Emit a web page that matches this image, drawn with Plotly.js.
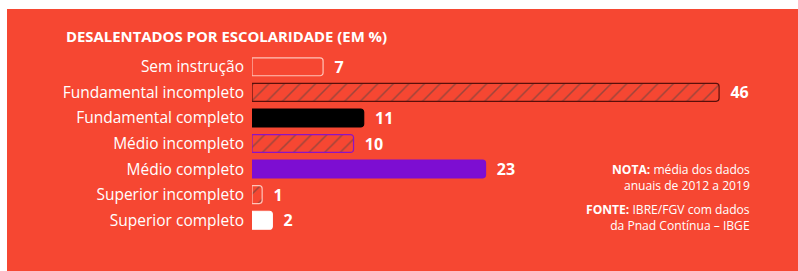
<!DOCTYPE html>
<html>
<head>
<meta charset="utf-8">
<script src="https://cdn.plot.ly/plotly-3.0.1.min.js"></script>
<style>
  html, body { margin: 0; padding: 0; background: #ffffff; width: 798px; height: 271px; overflow: hidden; }
  #chart { position: absolute; left: 7px; top: 9px; width: 791px; height: 262px; }
</style>
</head>
<body>
<div id="chart"></div>
<script>
// ---- Data ----
const categories = [
  "Sem instrução",
  "Fundamental incompleto",
  "Fundamental completo",
  "Médio incompleto",
  "Médio completo",
  "Superior incompleto",
  "Superior completo"
];
const values = [7, 46, 11, 10, 23, 1, 2];

const titleText = "DESALENTADOS POR ESCOLARIDADE (EM %)";
const noteText = "<b>NOTA:</b> média dos dados<br>anuais de 2012 a 2019";
const sourceText = "<b>FONTE:</b> IBRE/FGV com dados<br>da Pnad Contínua – IBGE";

// ---- Styles ----
const BG = "#f64732";
const fillColors = ["rgba(0,0,0,0)", "rgba(0,0,0,0)", "#000000", "rgba(0,0,0,0)", "#7d0ed2", "rgba(0,0,0,0)", "#ffffff"];
const patternShapes = ["", "/", "", "/", "", "/", ""];
const patternColors = ["#ffc4b8", "#4a0d08", "#000000", "#8c12c8", "#7d0ed2", "#ffc4b8", "#ffffff"];
const lineColors = ["#ffc4b8", "#5a0f0a", "#000000", "#8c12c8", "#7d0ed2", "#ffc4b8", "#ffffff"];

const FONT = "Open Sans, sans-serif";

const trace = {
  type: "bar",
  orientation: "h",
  y: categories,
  x: values,
  width: 0.7,
  marker: {
    color: fillColors,
    cornerradius: 3,
    line: { color: lineColors, width: 1.2 },
    pattern: {
      shape: patternShapes,
      fgcolor: patternColors,
      bgcolor: "rgba(0,0,0,0)",
      size: 11,
      solidity: 0.14,
      fillmode: "overlay"
    }
  },
  text: values.map(String),
  texttemplate: "\u00a0\u00a0%{x}",
  textposition: "outside",
  constraintext: "none",
  cliponaxis: false,
  textfont: { family: FONT, size: 16, color: "#ffffff", weight: "bold" },
  hoverinfo: "skip"
};

const layout = {
  width: 791,
  height: 262,
  margin: { l: 245, r: 18, t: 45, b: 38 },
  paper_bgcolor: BG,
  plot_bgcolor: BG,
  showlegend: false,
  font: { family: FONT, color: "#ffffff" },
  title: {
    text: "<b>" + titleText + "</b>",
    x: 59 / 791,
    xanchor: "left",
    xref: "container",
    y: 1 - 28 / 262,
    yanchor: "middle",
    yref: "container",
    font: { family: FONT, size: 14.9, color: "#ffffff" }
  },
  xaxis: {
    range: [0, 52],
    visible: false,
    showgrid: false,
    zeroline: false,
    fixedrange: true
  },
  yaxis: {
    type: "category",
    categoryorder: "array",
    categoryarray: categories,
    autorange: "reversed",
    showgrid: false,
    zeroline: false,
    showline: false,
    ticks: "",
    ticklabelstandoff: 7,
    tickfont: { family: FONT, size: 15.5, color: "#ffffff" },
    fixedrange: true
  },
  annotations: [
    {
      text: noteText, xref: "paper", yref: "paper",
      x: (745 - 245) / 528, y: (224 - 168.5) / 179,
      xanchor: "right", yanchor: "middle", align: "right", showarrow: false,
      font: { family: FONT, size: 12.1, color: "#ffffff" }
    },
    {
      text: sourceText, xref: "paper", yref: "paper",
      x: (745 - 245) / 528, y: (224 - 208.5) / 179,
      xanchor: "right", yanchor: "middle", align: "right", showarrow: false,
      font: { family: FONT, size: 12.1, color: "#ffffff" }
    }
  ]
};

Plotly.newPlot("chart", [trace], layout, { displayModeBar: false, staticPlot: true });
</script>
</body>
</html>
